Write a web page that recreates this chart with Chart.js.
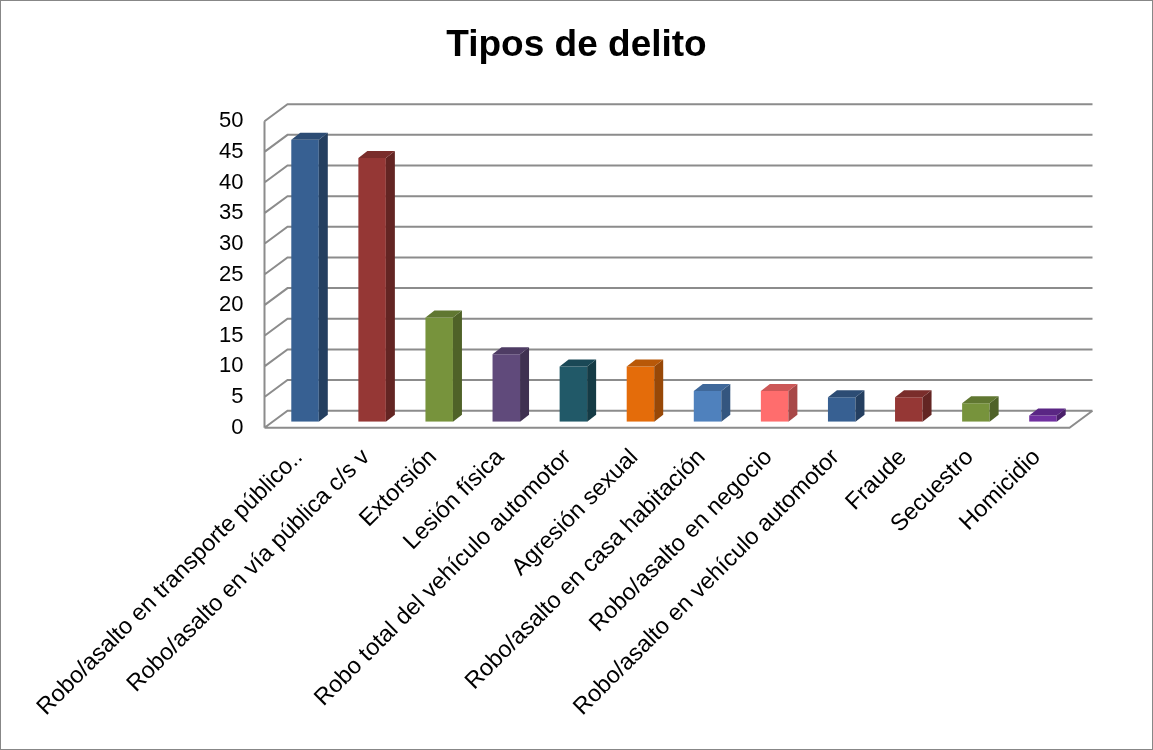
<!DOCTYPE html>
<html>
<head>
<meta charset="utf-8">
<script src="https://cdn.jsdelivr.net/npm/chart.js@4.4.1/dist/chart.umd.min.js"></script>
<style>
  html, body { margin: 0; padding: 0; background: #fff; }
  #wrap { width: 1151px; height: 748px; border: 1px solid #878787; position: relative; }
</style>
</head>
<body>
<div id="wrap"><canvas id="chart"></canvas></div>
<script>
const categories = [
    'Robo/asalto en transporte público..',
    'Robo/asalto en vía pública c/s v',
    'Extorsión',
    'Lesión física',
    'Robo total del vehículo automotor',
    'Agresión sexual',
    'Robo/asalto en casa habitación',
    'Robo/asalto en negocio',
    'Robo/asalto en vehículo automotor',
    'Fraude',
    'Secuestro',
    'Homicidio'
];
const counts = [46, 43, 17, 11, 9, 9, 5, 5, 4, 4, 3, 1];
const yMin = 0, yMax = 50, yStep = 5;

const frontColors = ['#376092', '#953735', '#77933C', '#604A7B', '#215968', '#E46C0A',
                     '#4F81BD', '#FF6D6D', '#376092', '#953735', '#77933C', '#7030A0'];
const sideColors  = ['#243F60', '#632523', '#4F6228', '#3F3151', '#153B45', '#984807',
                     '#34567F', '#A84848', '#243F60', '#632523', '#4F6228', '#4A206A'];
const topColors   = ['#2C4C74', '#7A2D2B', '#607731', '#4E3C64', '#1A4856', '#B85808',
                     '#3F689A', '#CC5858', '#2C4C74', '#7A2D2B', '#607731', '#5A2684'];

const FONT = '"Liberation Sans", Arial, sans-serif';

// fake 3D: depth of the bars and offsets of the front edge / back wall
const BAR_DX = 9, BAR_DY = -7;
const FRONT = { dx: -7, dy: 6 };
const BACK = { dx: 16, dy: -11 };

const walls = {
    id: 'walls',
    beforeDatasetsDraw(chart) {
        const { ctx, chartArea: a, scales: { y } } = chart;
        const fl = a.left + FRONT.dx, fr = a.right + FRONT.dx;
        const bl = a.left + BACK.dx, br = a.right + BACK.dx;
        const p0 = y.getPixelForValue(yMin);
        ctx.save();
        ctx.strokeStyle = '#8C8C8C';
        ctx.lineWidth = 2;
        ctx.beginPath();
        ctx.moveTo(fl, y.getPixelForValue(yMax) + FRONT.dy);
        ctx.lineTo(fl, p0 + FRONT.dy);
        y.ticks.forEach(t => {
            const py = y.getPixelForValue(t.value);
            ctx.moveTo(fl, py + FRONT.dy);
            ctx.lineTo(bl, py + BACK.dy);
            ctx.lineTo(br, py + BACK.dy);
        });
        // floor
        ctx.moveTo(fl, p0 + FRONT.dy);
        ctx.lineTo(fr, p0 + FRONT.dy);
        ctx.lineTo(br, p0 + BACK.dy);
        ctx.stroke();
        ctx.restore();
    }
};

const boxes = {
    id: 'boxes',
    afterDatasetsDraw(chart) {
        const ctx = chart.ctx;
        const poly = pts => {
            ctx.beginPath();
            ctx.moveTo(pts[0][0], pts[0][1]);
            pts.slice(1).forEach(p => ctx.lineTo(p[0], p[1]));
            ctx.closePath();
            ctx.fill();
        };
        ctx.save();
        chart.getDatasetMeta(0).data.forEach((bar, i) => {
            const { x, y, base, width } = bar.getProps(['x', 'y', 'base', 'width'], true);
            const l = x - width / 2, r = x + width / 2;
            ctx.fillStyle = sideColors[i];
            poly([[r, y], [r + BAR_DX, y + BAR_DY], [r + BAR_DX, base + BAR_DY], [r, base]]);
            ctx.fillStyle = topColors[i];
            poly([[l, y], [l + BAR_DX, y + BAR_DY], [r + BAR_DX, y + BAR_DY], [r, y]]);
        });
        ctx.restore();
    }
};

new Chart(document.getElementById('chart'), {
    type: 'bar',
    data: {
        labels: categories,
        datasets: [{
            data: counts,
            backgroundColor: frontColors,
            borderWidth: 0,
            categoryPercentage: 1,
            barPercentage: 0.41
        }]
    },
    options: {
        responsive: true,
        maintainAspectRatio: false,
        animation: false,
        layout: { padding: 0 },
        plugins: {
            legend: { display: false },
            tooltip: { enabled: false },
            title: {
                display: true,
                text: 'Tipos de delito',
                color: '#000',
                font: { family: FONT, size: 37, weight: 'bold', lineHeight: 1.2 },
                padding: { top: 23, bottom: 46.8 }
            }
        },
        scales: {
            y: {
                min: yMin,
                max: yMax,
                grid: { display: false, drawTicks: false },
                border: { display: false },
                ticks: {
                    stepSize: yStep,
                    color: '#000',
                    padding: 28,
                    labelOffset: 6,
                    font: { family: FONT, size: 22 }
                },
                afterFit: scale => { scale.width = 270.5; }
            },
            // empty axis on the right, only to keep room for the 3D back wall
            side: {
                position: 'right',
                grid: { display: false, drawTicks: false },
                border: { display: false },
                ticks: { display: false },
                afterFit: scale => { scale.width = 75.5; }
            },
            x: {
                grid: { display: false, drawTicks: false },
                border: { display: false },
                ticks: {
                    autoSkip: false,
                    minRotation: 45,
                    maxRotation: 45,
                    color: '#000',
                    padding: 22,
                    labelOffset: -6,
                    font: { family: FONT, size: 23.5 }
                },
                afterFit: scale => { scale.height = 327.3; }
            }
        }
    },
    plugins: [walls, boxes]
});
</script>
</body>
</html>
